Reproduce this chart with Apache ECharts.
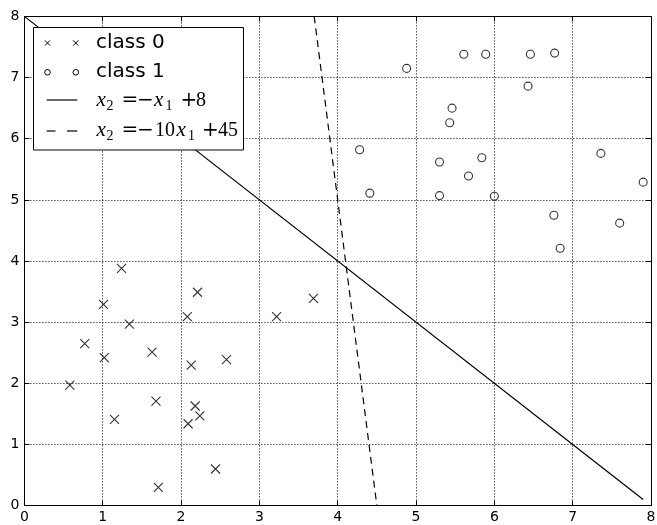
<!DOCTYPE html>
<html>
<head>
<meta charset="utf-8">
<script src="https://cdn.jsdelivr.net/npm/echarts@6/dist/echarts.min.js"></script>
<style>
  html, body { margin: 0; padding: 0; background: #fff; }
  #chart { width: 657px; height: 525px; }
</style>
</head>
<body>
<div id="chart"></div>
<script>
// Class 0 samples (x1, x2)
const class0X = [1.24, 1.01, 1.34, 0.77, 1.02, 1.63, 0.58, 1.68, 1.15, 1.71,
                 2.21, 2.08, 2.13, 2.58, 2.18, 2.24, 2.09, 2.44, 3.22, 3.69];
const class0Y = [3.88, 3.29, 2.97, 2.65, 2.42, 2.51, 1.97, 1.71, 1.41, 0.30,
                 3.49, 3.09, 2.30, 2.39, 1.63, 1.47, 1.34, 0.60, 3.09, 3.39];

// Class 1 samples (x1, x2)
const class1X = [4.88, 5.61, 5.89, 6.46, 6.77, 6.43, 5.46, 5.43, 4.28, 5.30,
                 5.84, 5.67, 4.41, 5.30, 6.00, 7.36, 7.90, 6.76, 7.60, 6.84];
const class1Y = [7.15, 7.38, 7.38, 7.38, 7.40, 6.86, 6.50, 6.26, 5.82, 5.62,
                 5.69, 5.39, 5.11, 5.07, 5.06, 5.76, 5.29, 4.75, 4.62, 4.21];

// Decision boundaries: x2 = -x1 + 8 and x2 = -10 x1 + 45 (end points)
const boundaryA = [[0, 8], [7.9, 0.1]];
const boundaryB = [[3.7, 8], [4.5, 0]];

const zip = (a, b) => a.map((v, i) => [v, b[i]]);

const crossPath = 'path://M0,0L10,10M10,0L0,10';
const sans = 'DejaVu Sans';

const chart = echarts.init(document.getElementById('chart'), null, { renderer: 'canvas' });

function axisBase(pos, showLabel) {
  return {
    type: 'value',
    position: pos,
    min: 0, max: 8, interval: 1,
    axisLine: { show: true, onZero: false, lineStyle: { color: '#000', width: 1 } },
    axisTick: { show: true, inside: true, length: 5, lineStyle: { color: '#000', width: 1 } },
    axisLabel: { show: showLabel, color: '#000', fontFamily: sans, fontSize: 14, margin: 5 },
    splitLine: showLabel ? { show: true, lineStyle: { color: '#000', width: 1, type: [1, 2] } } : { show: false }
  };
}

// Legend drawing helpers (all legend pieces sit above the plotted lines)
const Z = 100;
const F_IT = 'italic 21px "Liberation Serif"';
const F_RM = '20px "Liberation Serif"';
const F_OP = '20px "DejaVu Serif"';
const F_SUB = '14px "Liberation Serif"';

function txt(text, x, y, font) {
  return { type: 'text', z: Z, x: x, y: y,
           style: { text: text, font: font, fill: '#000', verticalAlign: 'middle', align: 'left' } };
}
function seg(x1, y1, x2, y2, w) {
  return { type: 'line', z: Z, shape: { x1, y1, x2, y2 }, style: { stroke: '#000', lineWidth: w || 1 } };
}
function cross(cx, cy, h) {
  return [seg(cx - h, cy - h, cx + h, cy + h), seg(cx + h, cy - h, cx - h, cy + h)];
}
function ring(cx, cy, r) {
  return { type: 'circle', z: Z, shape: { cx, cy, r }, style: { stroke: '#000', fill: null, lineWidth: 1 } };
}

const row1 = 100.5, row2 = 130.5, subDrop = 5.5;

const legendElements = [
  { type: 'rect', z: Z, shape: { x: 33.5, y: 27.5, width: 210, height: 122.5 },
    style: { fill: '#fff', stroke: '#000', lineWidth: 1 } },
  // class 0
  ...cross(47.5, 43, 2.6), ...cross(75.8, 43, 2.6),
  txt('class 0', 96, 43, '20px "DejaVu Sans"'),
  // class 1
  ring(47.5, 72.3, 2.8), ring(75.8, 72.3, 2.8),
  txt('class 1', 96, 71.5, '20px "DejaVu Sans"'),
  // x2 = -x1 + 8
  seg(46.7, 100, 77.3, 100, 1.2),
  txt('x', 96.5, row1, F_IT), txt('2', 106.5, row1 + subDrop, F_SUB),
  txt('=', 121.5, row1, F_OP), txt('−', 137, row1, F_OP),
  txt('x', 154, row1, F_IT), txt('1', 165.5, row1 + subDrop, F_SUB),
  txt('+', 180.5, row1, F_OP), txt('8', 196, row1, F_RM),
  // x2 = -10x1 + 45
  seg(46.7, 131, 55.5, 131, 1.2), seg(67, 131, 77.3, 131, 1.2),
  txt('x', 96.5, row2, F_IT), txt('2', 106.5, row2 + subDrop, F_SUB),
  txt('=', 121.5, row2, F_OP), txt('−', 137, row2, F_OP),
  txt('10', 155, row2, F_RM),
  txt('x', 176.5, row2, F_IT), txt('1', 188, row2 + subDrop, F_SUB),
  txt('+', 202, row2, F_OP), txt('45', 218, row2, F_RM)
];

const option = {
  animation: false,
  backgroundColor: '#fff',
  grid: { left: 24.4, right: 6, top: 16.4, bottom: 19.3, outerBoundsMode: 'none', containLabel: false },
  xAxis: [axisBase('bottom', true), axisBase('top', false)],
  yAxis: [axisBase('left', true), axisBase('right', false)],
  series: [
    {
      name: 'class 0', type: 'scatter', xAxisIndex: 0, yAxisIndex: 0,
      data: zip(class0X, class0Y),
      symbol: crossPath, symbolSize: 9,
      itemStyle: { color: 'none', borderColor: '#000', borderWidth: 1.1 }
    },
    {
      name: 'class 1', type: 'scatter', xAxisIndex: 0, yAxisIndex: 0,
      data: zip(class1X, class1Y),
      symbol: 'circle', symbolSize: 8,
      itemStyle: { color: 'none', borderColor: '#000', borderWidth: 1.1 }
    },
    {
      name: 'x2 = -x1 + 8', type: 'line', data: boundaryA, showSymbol: false,
      lineStyle: { color: '#000', width: 1.2 }
    },
    {
      name: 'x2 = -10x1 + 45', type: 'line', data: boundaryB, showSymbol: false,
      lineStyle: { color: '#000', width: 1.2, type: [7, 5] }
    }
  ],
  graphic: { elements: legendElements }
};

chart.setOption(option);
</script>
</body>
</html>
